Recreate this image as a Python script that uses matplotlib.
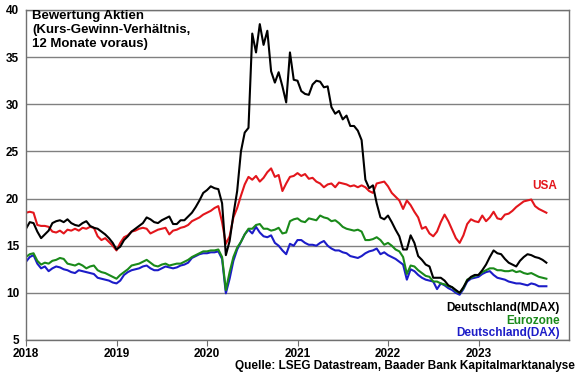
import numpy as np
import matplotlib
matplotlib.use('Agg')
import matplotlib.pyplot as plt

plt.rcParams['font.family'] = ['Liberation Sans', 'DejaVu Sans']

# half-monthly points, Jan 2018 .. Oct 2023 (decimal years)
dates = 2018 + np.arange(139) / 24

usa = [
    18.5, 18.6, 18.5, 17.2, 17.1, 17.1, 17.0, 16.5, 16.4, 16.6, 16.3, 16.7,
    16.6, 16.8, 16.6, 16.9, 16.8, 17.0, 16.9, 16.0, 15.6, 15.8, 15.4, 15.0,
    14.5, 15.3, 15.9, 16.1, 16.5, 16.6, 16.8, 16.9, 16.8, 16.3, 16.5, 16.7,
    16.8, 16.9, 16.2, 16.6, 16.7, 16.9, 17.0, 17.2, 17.6, 17.8, 18.0, 18.3,
    18.5, 18.7, 19.0, 19.2, 17.5, 15.2, 16.0, 18.0, 19.0, 20.3, 21.5, 22.3,
    22.0, 22.4, 21.8, 22.2, 22.8, 23.2, 22.3, 22.5, 20.8, 21.6, 22.3, 22.4,
    22.7, 22.4, 22.6, 22.1, 22.2, 21.8, 21.6, 21.2, 21.5, 21.6, 21.2, 21.7,
    21.6, 21.5, 21.3, 21.4, 21.2, 21.4, 21.2, 20.8, 20.6, 21.6, 21.7, 21.8,
    21.3, 20.6, 20.2, 19.8, 18.9, 19.8, 19.3, 18.6, 18.0, 16.8, 17.0, 16.3,
    16.0, 16.5, 17.5, 18.3, 17.6, 16.7, 15.8, 15.3, 16.1, 17.3, 17.8, 17.6,
    17.5, 18.2, 17.6, 18.0, 18.6, 17.9, 17.8, 18.3, 18.4, 18.7, 19.1, 19.4,
    19.7, 19.8, 19.9, 19.2, 18.9, 18.7, 18.5,
]

mdax = [
    16.8, 17.5, 17.4, 16.5, 15.8, 16.2, 16.6, 17.4, 17.6, 17.7, 17.5, 17.8,
    17.4, 17.2, 17.1, 17.4, 17.6, 17.1, 16.9, 16.8, 16.5, 16.2, 15.8, 15.3,
    14.6, 14.9, 15.6, 16.0, 16.5, 16.8, 17.1, 17.4, 18.0, 17.8, 17.5, 17.4,
    17.7, 17.9, 18.1, 17.3, 17.3, 17.7, 17.7, 18.1, 18.5, 19.1, 19.8, 20.6,
    20.9, 21.3, 21.1, 21.0, 19.5, 14.0, 15.5, 18.3, 20.8, 25.0, 27.0, 27.5,
    37.5, 35.5, 38.5, 36.3, 37.8, 33.5, 32.3, 33.4, 31.9, 30.2, 35.5, 32.6,
    32.5, 31.4, 31.1, 31.0, 32.1, 32.5, 32.4, 31.8, 31.9, 29.7, 29.0, 29.3,
    28.4, 28.8, 27.7, 27.7, 27.2, 26.2, 22.0, 21.1, 21.4, 19.5, 18.0, 17.8,
    18.2, 17.5, 16.7, 16.0, 14.6, 14.6, 16.1, 15.3, 13.9, 13.5, 13.0, 12.8,
    11.6, 11.6, 11.6, 11.3, 10.8, 10.6, 10.3, 10.0, 10.6, 11.3, 11.7, 11.9,
    11.9, 12.4, 13.0, 13.8, 14.5, 14.2, 14.1, 13.6, 13.2, 13.0, 12.8, 13.4,
    13.8, 14.1, 14.0, 13.8, 13.7, 13.5, 13.2,
]

eurozone = [
    13.8, 14.1, 14.2, 13.4, 13.0, 13.2, 13.1, 13.4, 13.5, 13.7, 13.6, 13.1,
    13.0, 12.9, 13.1, 12.9, 12.6, 12.8, 12.9, 12.4, 12.2, 12.1, 11.9, 11.7,
    11.5, 11.9, 12.2, 12.5, 12.9, 13.0, 13.1, 13.3, 13.5, 13.2, 12.9, 12.8,
    13.0, 13.1, 12.9, 13.0, 13.1, 13.1, 13.3, 13.5, 13.8, 14.0, 14.2, 14.4,
    14.4, 14.5, 14.5, 14.6, 13.8, 10.3, 12.2, 13.8, 14.8, 15.4, 16.2, 16.8,
    16.8, 17.2, 17.3, 16.8, 16.8, 16.6, 16.7, 16.9, 16.3, 16.4, 17.6, 17.8,
    17.9, 17.6, 17.5, 17.9, 17.8, 17.7, 18.2, 18.0, 17.9, 17.6, 17.7, 17.4,
    17.0, 16.8, 16.7, 16.6, 16.7, 16.5, 15.6, 15.6, 15.7, 15.9, 15.6, 15.1,
    15.3, 15.0, 14.6, 14.4, 13.8, 12.0, 12.9, 12.8, 12.4, 12.1, 11.8, 11.7,
    11.2, 11.2, 11.0, 10.9, 10.7, 10.6, 10.2, 10.0, 10.5, 11.4, 11.6, 11.8,
    11.9, 12.2, 12.4, 12.6, 12.6, 12.4, 12.4, 12.3, 12.3, 12.4, 12.2, 12.3,
    12.1, 12.0, 12.1, 11.9, 11.7, 11.6, 11.5,
]

dax = [
    13.3, 13.8, 14.0, 13.1, 12.6, 12.8, 12.3, 12.6, 12.8, 12.7, 12.5, 12.4,
    12.2, 12.1, 12.4, 12.3, 12.2, 12.1, 12.0, 11.6, 11.5, 11.4, 11.3, 11.1,
    11.0, 11.3, 11.9, 12.2, 12.4, 12.5, 12.6, 12.8, 12.9, 12.6, 12.4, 12.4,
    12.6, 12.8, 12.7, 12.6, 12.7, 12.9, 13.0, 13.2, 13.7, 13.9, 14.1, 14.2,
    14.2, 14.3, 14.3, 14.4, 13.6, 9.95, 11.5, 13.4, 14.6, 15.4, 16.2, 16.7,
    16.3, 17.0, 16.4, 16.0, 15.9, 16.1, 15.3, 15.0, 14.5, 14.1, 15.2, 15.0,
    15.6, 15.6, 15.3, 15.1, 15.1, 15.0, 15.3, 15.5, 15.0, 14.7, 14.5, 14.5,
    14.3, 14.2, 13.9, 13.8, 13.7, 13.9, 14.2, 14.4, 14.5, 14.7, 14.1, 14.3,
    14.0, 13.8, 13.6, 13.3, 13.0, 11.4, 12.5, 12.3, 11.9, 11.6, 11.4, 11.3,
    11.2, 10.4, 11.0, 10.8, 10.5, 10.3, 10.0, 9.8, 10.4, 11.2, 11.5, 11.6,
    11.7, 12.0, 12.2, 12.3, 11.9, 11.6, 11.5, 11.4, 11.2, 11.1, 11.0, 11.0,
    10.9, 10.8, 11.0, 10.9, 10.7, 10.7, 10.7,
]

years = [2018, 2019, 2020, 2021, 2022, 2023]

c_usa = '#e3161c'
c_mdax = '#000000'
c_ez = '#1a8a1a'
c_dax = '#1c1cc8'

fig = plt.figure(figsize=(5.8, 3.75), dpi=100)
ax = fig.add_axes([26 / 580, 35 / 375, 543 / 580, 330 / 375])

ax.plot(dates, dax, color=c_dax, lw=1.5)
ax.plot(dates, eurozone, color=c_ez, lw=1.5)
ax.plot(dates, usa, color=c_usa, lw=1.5)
ax.plot(dates, mdax, color=c_mdax, lw=1.5)

ax.set_xlim(2018, 2024)
ax.set_ylim(5, 40)
ax.set_yticks(range(5, 41, 5))
ax.set_xticks(years)
ax.set_xticklabels([str(y) for y in years])
ax.grid(axis='y', color='#808080', lw=1)
ax.set_axisbelow(True)
for s in ax.spines.values():
    s.set_color('#707070')
    s.set_linewidth(1)
ax.tick_params(axis='y', length=0, pad=5, labelsize=8.5)
ax.tick_params(axis='x', length=4, direction='out', color='#707070',
               pad=1.5, labelsize=8.5)
for lab in ax.get_xticklabels() + ax.get_yticklabels():
    lab.set_fontweight('bold')

ax.text(2023.87, 21.3, 'USA', color=c_usa, fontsize=8.5, fontweight='bold',
        ha='right', va='center')
ax.text(2023.90, 8.4, 'Deutschland(MDAX)', color=c_mdax, fontsize=8.5,
        fontweight='bold', ha='right', va='center')
ax.text(2023.90, 7.05, 'Eurozone', color=c_ez, fontsize=8.5,
        fontweight='bold', ha='right', va='center')
ax.text(2023.90, 5.75, 'Deutschland(DAX)', color=c_dax, fontsize=8.5,
        fontweight='bold', ha='right', va='center')

fig.text(32 / 580, 1 - 10 / 375,
         'Bewertung Aktien\n(Kurs-Gewinn-Verhältnis,\n12 Monate voraus)',
         ha='left', va='top', fontsize=9.5, fontweight='bold')
fig.text(575 / 580, 1 - 366 / 375,
         'Quelle: LSEG Datastream, Baader Bank Kapitalmarktanalyse',
         ha='right', va='center', fontsize=8.5, fontweight='bold')

fig.savefig('out.png', dpi=100)
